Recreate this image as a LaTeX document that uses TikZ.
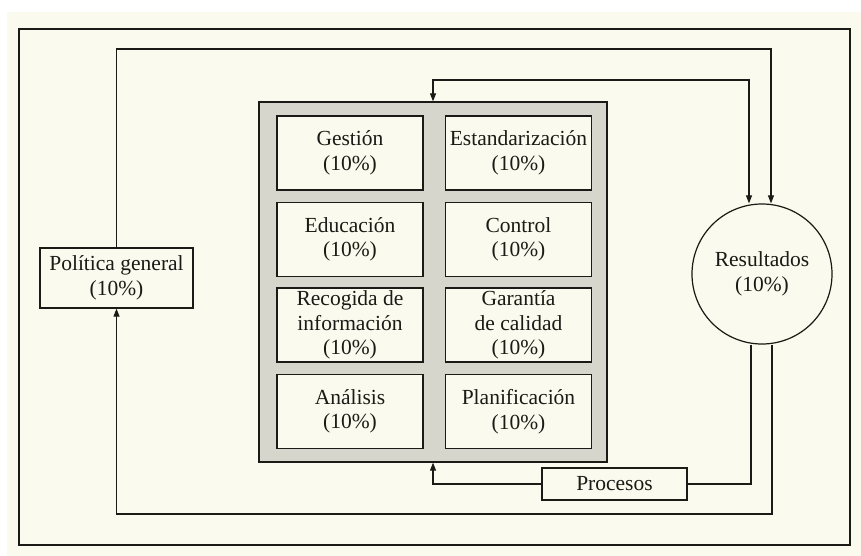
\documentclass[tikz,border=0pt]{standalone}
\usepackage{fontspec}
\setmainfont{Liberation Serif}
\usetikzlibrary{arrows.meta}
\definecolor{paper}{RGB}{250,250,238}
\definecolor{panelgray}{RGB}{214,214,204}
\definecolor{ink}{RGB}{26,26,22}
\newcommand{\lbl}{\fontsize{21.5}{24.5}\selectfont}
\begin{document}
\begin{tikzpicture}[x=1pt,y=-1pt,
  cellbox/.style={draw=ink, line width=1.3pt, fill=paper, align=center, inner sep=0pt,
    minimum width=146pt, minimum height=74pt, font=\lbl, text=ink},
  panelbox/.style={draw=ink, line width=1.3pt, fill=panelgray, inner sep=0pt,
    minimum width=348pt, minimum height=360pt},
  outerframe/.style={draw=ink, line width=1.2pt, inner sep=0pt,
    minimum width=831pt, minimum height=516pt},
  roundbox/.style={draw=ink, line width=1.2pt, fill=paper, circle, inner sep=0pt,
    minimum size=140pt, align=center, font=\lbl, text=ink},
  linkline/.style={draw=ink, line width=1.1pt},
  tip/.tip={Triangle[length=8pt,width=6pt]}]
  % page background
  \fill[white] (0,0) rectangle (861,556);
  \fill[paper] (7,12) rectangle (861,556);
  \useasboundingbox (0,0) rectangle (861,556);

  % outer frame
  \node[outerframe] (outer) at (434.5,287) {};

  % grey panel holding the eight criteria
  \node[panelbox] (panel) at (433,282) {};
  \node[cellbox] (gestion)  at (350,153)   {Gestión\\(10\%)};
  \node[cellbox] (estand)   at (518.5,153) {Estandarización\\(10\%)};
  \node[cellbox] (educ)     at (350,239.5) {Educación\\(10\%)};
  \node[cellbox] (control)  at (518.5,239.5) {Control\\(10\%)};
  \node[cellbox] (recog)    at (350,325)   {Recogida de\\información\\(10\%)};
  \node[cellbox] (garantia) at (518.5,325) {Garantía\\de calidad\\(10\%)};
  \node[cellbox] (analisis) at (350,411.5) {Análisis\\(10\%)};
  \node[cellbox] (planif)   at (518.5,411.5) {Planificación\\(10\%)};

  % side elements
  \node[cellbox, minimum width=153pt, minimum height=60pt] (politica) at (116.5,278)
    {Política general\\(10\%)};
  \node[roundbox] (result) at (762,274) {Resultados\\(10\%)};
  \node[cellbox, minimum width=145pt, minimum height=32pt] (procesos) at (614.5,484)
    {Procesos};

  % corner points of the connectors
  \coordinate (loopTop) at (771,49);
  \coordinate (loopBot) at (772,514);
  \coordinate (midTop)  at (749,80);
  \coordinate (toProc)  at (751,484);

  % connectors
  \draw[linkline,-tip] (politica.north) |- (loopTop) -- (result.north -| loopTop);
  \draw[linkline,-tip] (result.south -| loopBot) -- (loopBot) -| (politica.south);
  \draw[linkline,tip-tip] (panel.north) |- (midTop) -- (result.north -| midTop);
  \draw[linkline] (result.south -| toProc) -- (toProc) -- (procesos.east);
  \draw[linkline,-tip] (procesos.west) -| (panel.south);
\end{tikzpicture}
\end{document}
